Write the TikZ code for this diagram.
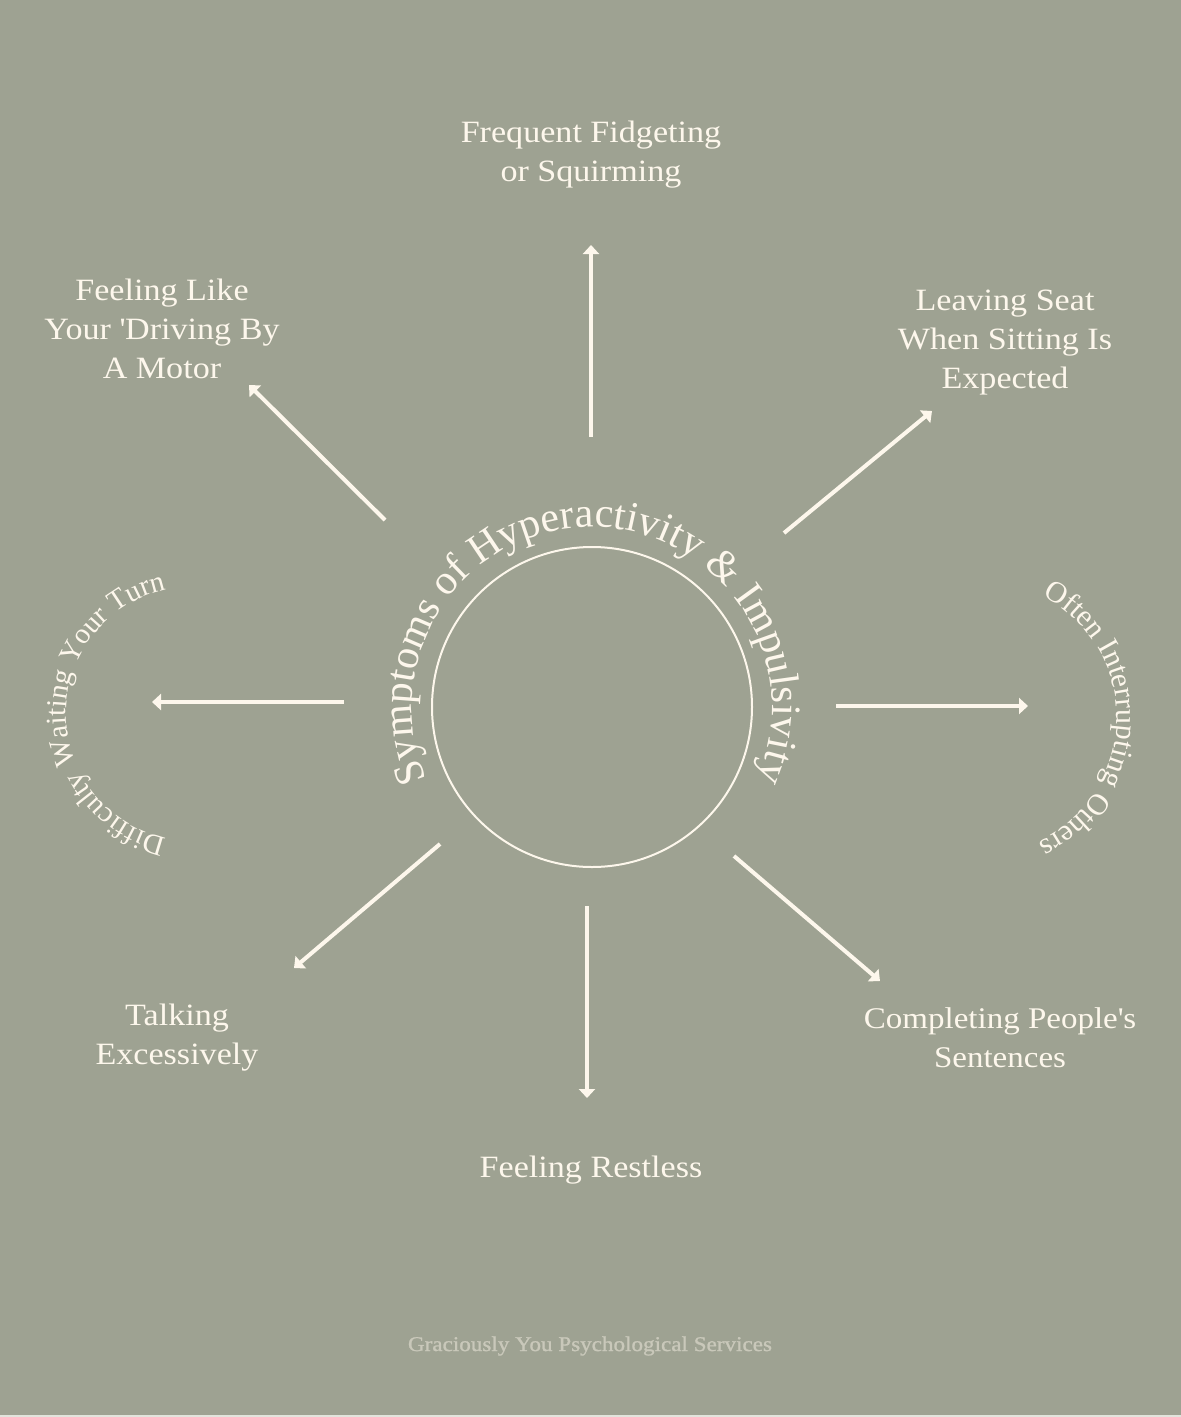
\documentclass[tikz,border=0pt]{standalone}
\usepackage{fontspec}
\setmainfont[FakeStretch=1.1]{Liberation Serif}
\newfontfamily\arcfont{Liberation Serif}
\newfontfamily\footfont[FakeStretch=1.1,FakeBold=1.2]{Liberation Serif}
\usetikzlibrary{arrows.meta,decorations.text}
\definecolor{sage}{HTML}{9EA292}
\definecolor{cream}{HTML}{FDF7EC}
\definecolor{footgrey}{HTML}{C9C8BA}
\definecolor{edgeline}{HTML}{E2E4DC}
\begin{document}
\begin{tikzpicture}[x=1pt,y=1pt,
  lbl/.style={text=cream, align=center, font=\fontsize{31}{39}\selectfont, inner sep=0pt},
  arr/.style={draw=cream, line width=4pt, -{Triangle[width=16pt,length=9pt]}},
  hubring/.style={circle, draw=cream, line width=2pt, minimum size=320pt, inner sep=0pt},
  ]
\fill[sage] (0,0) rectangle (1181,-1417);
\fill[edgeline] (0,-1415) rectangle (1181,-1417);
\useasboundingbox (0,0) rectangle (1181,-1417);

% central ring
\node[hubring] (hub) at (592,-707) {};

% curved title
\path[decorate, decoration={text along path, text align=center,
  text={|\arcfont\fontsize{42}{42}\selectfont\color{cream}|Symptoms of Hyperactivity {\&} Impulsivity}}]
  ([shift={(220:180pt)}]hub.center) arc[start angle=220, end angle=-40, radius=180pt];

% labels
\node[lbl] (top) at (591,-155) {Frequent Fidgeting\\or Squirming};
\node[lbl] (ul) at (162,-329) {Feeling Like\\Your \textquotesingle Driving By\\A Motor};
\node[lbl] (ur) at (1005,-343) {Leaving Seat\\When Sitting Is\\Expected};
\node[lbl] (ll) at (177,-1038) {Talking\\Excessively};
\node[lbl, font=\fontsize{30}{39}\selectfont] (lr) at (1000,-1038) {Completing People\textquotesingle s\\Sentences};
\node[lbl] (bot) at (591,-1170) {Feeling Restless};
\node[text=footgrey, font=\footfont\fontsize{21}{21}\selectfont, inner sep=0pt] (foot) at (590,-1346) {Graciously You Psychological Services};

% curved side labels
\coordinate (lc) at (193,-714);
\coordinate (rc) at (980,-718);
\path[decorate, decoration={text along path, text align=center,
  text={|\arcfont\fontsize{29}{29}\selectfont\color{cream}|Difficulty Waiting Your Turn}}]
  ([shift={(270:127pt)}]lc) arc[start angle=270, end angle=90, radius=127pt];
\path[decorate, decoration={text along path, text align=center,
  text={|\arcfont\fontsize{30}{30}\selectfont\color{cream}|Often Interrupting Others}}]
  ([shift={(85:137pt)}]rc) arc[start angle=85, end angle=-87, radius=137pt];

% arrow endpoints
\coordinate (nS) at (591,-437);  \coordinate (nE) at (591,-245);
\coordinate (nwS) at (385,-520); \coordinate (nwE) at (249,-385);
\coordinate (neS) at (784,-533); \coordinate (neE) at (932,-411);
\coordinate (wS) at (344,-702);  \coordinate (wE) at (152,-702);
\coordinate (eS) at (836,-706);  \coordinate (eE) at (1028,-706);
\coordinate (swS) at (440,-844); \coordinate (swE) at (294,-968);
\coordinate (sS) at (587,-906);  \coordinate (sE) at (587,-1098);
\coordinate (seS) at (734,-856); \coordinate (seE) at (880,-981);

\draw[arr] (nS) -- (nE);
\draw[arr] (nwS) -- (nwE);
\draw[arr] (neS) -- (neE);
\draw[arr] (wS) -- (wE);
\draw[arr] (eS) -- (eE);
\draw[arr] (swS) -- (swE);
\draw[arr] (sS) -- (sE);
\draw[arr] (seS) -- (seE);
\end{tikzpicture}
\end{document}
